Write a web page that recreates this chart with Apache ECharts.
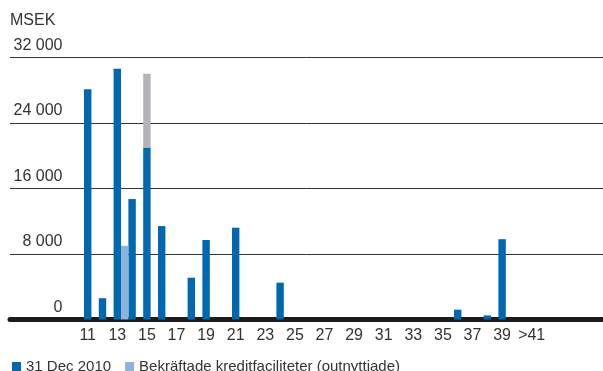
<!DOCTYPE html>
<html>
<head>
<meta charset="utf-8">
<script src="https://cdn.jsdelivr.net/npm/echarts@6/dist/echarts.min.js"></script>
<style>
  html, body { margin: 0; padding: 0; background: #fff; }
  #chart { width: 603px; height: 371px; }
</style>
</head>
<body>
<div id="chart"></div>
<script>
// Maturity buckets (years) and amounts in MSEK
const categories = ['11','12','13','14','15','16','17','18','19','20','21','22','23','24','25','26','27','28','29','30','31','32','33','34','35','36','37','38','39','40','>41'];
const dec2010 = [28100, 2600, 30600, 14700, 21000, 11400, 0, 5100, 9700, 0, 11200, 0, 0, 4500, 0, 0, 0, 0, 0, 0, 0, 0, 0, 0, 0, 1200, 0, 500, 9800, 0, 0];
const extraStacked = [0, 0, 0, 0, 9000, 0, 0, 0, 0, 0, 0, 0, 0, 0, 0, 0, 0, 0, 0, 0, 0, 0, 0, 0, 0, 0, 0, 0, 0, 0, 0];
const creditFacilities = [0, 0, 9000, 0, 0, 0, 0, 0, 0, 0, 0, 0, 0, 0, 0, 0, 0, 0, 0, 0, 0, 0, 0, 0, 0, 0, 0, 0, 0, 0, 0];
const yTicks = { min: 0, max: 32000, interval: 8000 };

const seriesNames = ['31 Dec 2010', 'Bekräftade kreditfaciliteter (outnyttjade)'];
const FONT = 'Liberation Sans';
const TEXT = '#333333';

const chart = echarts.init(document.getElementById('chart'), null, { renderer: 'canvas' });

function fmt(v) {
  return v >= 1000 ? Math.floor(v / 1000) + ' ' + String(v % 1000).padStart(3, '0') : String(v);
}

chart.setOption({
  animation: false,
  backgroundColor: '#ffffff',
  grid: [
    { left: 10, right: 0, top: 57.3, bottom: 51.5 },
    { left: 84, right: 60.2, top: 57.3, bottom: 51.5 }
  ],
  legend: {
    data: seriesNames,
    left: 7,
    top: 354,
    itemWidth: 9,
    itemHeight: 9,
    itemGap: 14,
    icon: 'rect',
    textStyle: { fontFamily: FONT, fontSize: 15, color: TEXT }
  },
  xAxis: [
    {
      gridIndex: 0, type: 'value', min: 0, max: 1,
      axisLine: { show: true, lineStyle: { color: '#1c1c1c', width: 5 } },
      axisTick: { show: false }, axisLabel: { show: false }, splitLine: { show: false }
    },
    {
      gridIndex: 1, type: 'category', data: categories,
      axisLine: { show: false }, axisTick: { show: false },
      axisLabel: {
        interval: 1, margin: 8, padding: [0, 7.4, 0, 0],
        fontFamily: FONT, fontSize: 16, color: TEXT
      }
    }
  ],
  yAxis: [
    {
      gridIndex: 0, type: 'value', ...yTicks,
      name: 'MSEK', nameLocation: 'end', nameGap: 36.6,
      nameTextStyle: { fontFamily: FONT, fontSize: 16, color: TEXT, align: 'left', verticalAlign: 'middle' },
      axisLine: { show: false }, axisTick: { show: false },
      splitLine: { show: true, lineStyle: { color: '#333333', width: 1 } },
      axisLabel: {
        inside: true, margin: 52.5, align: 'right', verticalAlign: 'bottom',
        lineHeight: 16, padding: [0, 0, 4, 0],
        fontFamily: FONT, fontSize: 16, color: TEXT,
        formatter: fmt
      }
    },
    {
      gridIndex: 1, type: 'value', ...yTicks, show: false
    }
  ],
  series: [
    {
      name: seriesNames[0], type: 'bar', xAxisIndex: 1, yAxisIndex: 1,
      stack: 'total', barWidth: 7.4, barGap: '0%',
      itemStyle: { color: '#0068AF' },
      data: dec2010
    },
    {
      name: 'Övrigt', type: 'bar', xAxisIndex: 1, yAxisIndex: 1,
      stack: 'total', barWidth: 7.4, barGap: '0%',
      itemStyle: { color: '#B2B4B7' },
      data: extraStacked
    },
    {
      name: seriesNames[1], type: 'bar', xAxisIndex: 1, yAxisIndex: 1,
      barWidth: 7.4, barGap: '0%',
      itemStyle: { color: '#8DB3DD' },
      data: creditFacilities
    }
  ]
});
</script>
</body>
</html>
